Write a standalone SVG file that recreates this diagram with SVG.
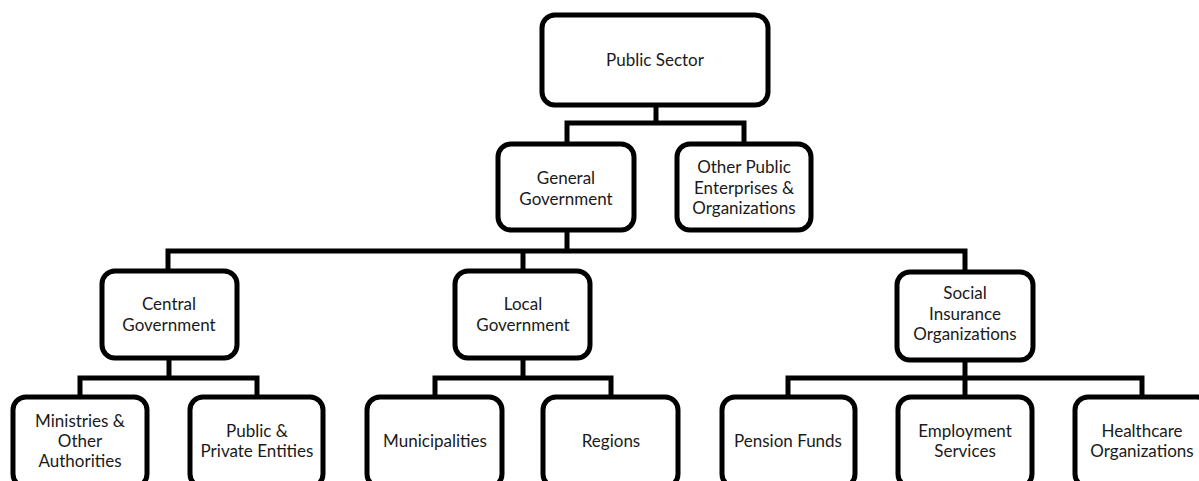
<svg xmlns="http://www.w3.org/2000/svg" width="1199" height="481" viewBox="0 0 1199 481">
  <style>
    .box { fill: #ffffff; stroke: #000000; stroke-width: 5; }
    .wire { fill: none; stroke: #000000; stroke-width: 5; stroke-linejoin: miter; stroke-linecap: square; }
    text { font-family: Lato, "Liberation Sans", sans-serif; font-size: 17px; fill: #1a1a1a; text-anchor: middle; }
  </style>
  <rect width="1199" height="481" fill="#ffffff"/>

  <!-- connectors -->
  <g id="connectors">
    <path class="wire" d="M656,105 V123 M567,123 H744 M567,123 V144 M744,123 V144"/>
    <path class="wire" d="M567,230 V251 M168,251 H965 M168,251 V271 M523,251 V271 M965,251 V272"/>
    <path class="wire" d="M169,358 V378 M80,378 H257 M80,378 V397 M257,378 V397"/>
    <path class="wire" d="M523,358 V378 M435,378 H611 M435,378 V397 M611,378 V397"/>
    <path class="wire" d="M965,360 V378 M788,378 H1142 M788,378 V397 M965,378 V397 M1142,378 V397"/>
  </g>

  <g id="public-sector">
    <rect class="box" x="542" y="15" width="226" height="90" rx="13"/>
    <text x="655" y="66">Public Sector</text>
  </g>

  <g id="general-government">
    <rect class="box" x="498" y="144" width="136" height="86" rx="13"/>
    <text x="566" y="184">General</text>
    <text x="566" y="205">Government</text>
  </g>

  <g id="other-public-enterprises">
    <rect class="box" x="677" y="144" width="134" height="86" rx="13"/>
    <text x="744" y="173">Other Public</text>
    <text x="744" y="194">Enterprises &amp;</text>
    <text x="744" y="214">Organizations</text>
  </g>

  <g id="central-government">
    <rect class="box" x="102" y="271" width="135" height="87" rx="13"/>
    <text x="169" y="310">Central</text>
    <text x="169" y="331">Government</text>
  </g>

  <g id="local-government">
    <rect class="box" x="455" y="271" width="135" height="87" rx="13"/>
    <text x="523" y="310">Local</text>
    <text x="523" y="331">Government</text>
  </g>

  <g id="social-insurance">
    <rect class="box" x="897" y="272" width="136" height="88" rx="13"/>
    <text x="965" y="299">Social</text>
    <text x="965" y="320">Insurance</text>
    <text x="965" y="340">Organizations</text>
  </g>

  <g id="ministries">
    <rect class="box" x="13" y="397" width="134" height="90" rx="13"/>
    <text x="80" y="427">Ministries &amp;</text>
    <text x="80" y="447">Other</text>
    <text x="80" y="467">Authorities</text>
  </g>

  <g id="public-private-entities">
    <rect class="box" x="190" y="397" width="133" height="90" rx="13"/>
    <text x="257" y="437">Public &amp;</text>
    <text x="257" y="457">Private Entities</text>
  </g>

  <g id="municipalities">
    <rect class="box" x="367" y="397" width="135" height="90" rx="13"/>
    <text x="435" y="447">Municipalities</text>
  </g>

  <g id="regions">
    <rect class="box" x="543" y="397" width="135" height="90" rx="13"/>
    <text x="611" y="447">Regions</text>
  </g>

  <g id="pension-funds">
    <rect class="box" x="722" y="397" width="133" height="90" rx="13"/>
    <text x="788" y="447">Pension Funds</text>
  </g>

  <g id="employment-services">
    <rect class="box" x="898" y="397" width="134" height="90" rx="13"/>
    <text x="965" y="437">Employment</text>
    <text x="965" y="457">Services</text>
  </g>

  <g id="healthcare-organizations">
    <rect class="box" x="1075" y="397" width="135" height="90" rx="13"/>
    <text x="1142" y="437">Healthcare</text>
    <text x="1142" y="457">Organizations</text>
  </g>
</svg>
